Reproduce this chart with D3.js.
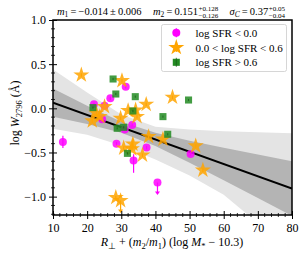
<!DOCTYPE html>
<html><head><meta charset="utf-8">
<script src="https://cdn.jsdelivr.net/npm/d3@7"></script>
<style>body{margin:0;background:#fff}svg{display:block}text{font-family:"Liberation Serif","Times New Roman",serif}</style>
</head><body>
<script>
// ---- data ----
const lowX = [12.9, 22.0, 24.4, 25.1, 26.8, 31.3, 28.6, 31.0, 33.2, 33.6, 37.4, 40.6, 50.3];
const lowY = [-0.38, 0.045, -0.125, 0.03, 0.113, 0.245, -0.40, -0.24, -0.19, -0.59, -0.445, -0.84, -0.517];
const lowErrUp = [0.07, 0.02, 0.02, 0.02, 0.02, 0.02, 0.02, 0.02, 0.02, 0.07, 0.02, 0.0, 0.02];
const lowErrDn = [0.07, 0.02, 0.02, 0.02, 0.02, 0.02, 0.02, 0.02, 0.02, 0.14, 0.02, 0.0, 0.02];
const lowLimit = [0,0,0,0,0,0,0,0,0,0,0,1,0];

const midX = [18.3, 30.2, 25.1, 23.7, 21.5, 22.7, 29.8, 32.0, 34.6, 37.3, 34.2, 45.0, 38.0, 42.2, 51.8, 53.9, 30.7, 33.4, 33.1, 36.2, 28.4, 29.8];
const midY = [0.377, 0.313, 0.019, -0.094, -0.143, -0.057, -0.113, -0.026, -0.094, 0.045, -0.019, 0.125, -0.32, -0.35, -0.426, -0.70, -0.45, -0.405, -0.46, -0.53, -1.01, -1.045];
const midErr = [0.02,0.02,0.02,0.02,0.02,0.02,0.02,0.02,0.02,0.02,0.02,0.02,0.02,0.02,0.02,0.02,0.02,0.06,0.02,0.02,0.02,0.0];
const midLimit = [0,0,0,0,0,0,0,0,0,0,0,0,0,0,0,0,0,0,0,0,0,1];

const highX = [27.6, 28.4, 34.1, 21.7, 33.4, 42.2, 49.7, 43.6, 28.8, 30.7, 31.8];
const highY = [0.332, 0.162, 0.132, 0.008, -0.03, -0.094, 0.094, -0.294, -0.226, -0.215, -0.51];
const highErr = [0.012,0.012,0.012,0.012,0.012,0.012,0.012,0.012,0.012,0.012,0.012];

// fit line and bands
const fitX = [10, 80];
const fitY = [0.064, -0.909];
const bandX = [10, 20, 30, 40, 50, 60, 70, 80];
const innerHi = [0.224, 0.028, -0.151, -0.278, -0.367, -0.447, -0.524, -0.60];
const innerLo = [-0.096, -0.178, -0.277, -0.428, -0.617, -0.815, -1.016, -1.218];
const outerHi = [0.44, 0.18, -0.07, -0.21, -0.24, -0.26, -0.27, -0.283];
const outerLo = [-0.23, -0.30, -0.42, -0.58, -0.76, -0.98, -1.30, -1.60];

const xTicks = [10, 20, 30, 40, 50, 60, 70, 80];
const yTicks = [-1.0, -0.5, 0.0, 0.5, 1.0];
const legendLabels = ["log SFR < 0.0", "0.0 < log SFR < 0.6", "log SFR > 0.6"];
const colors = ["#ff00ff", "#ffa500", "#228b22"];

// ---- drawing ----
const W = 299, H = 260;
const L = 53, R = 292, T = 20, B = 215;
const svg = d3.select("body").append("svg").attr("width", W).attr("height", H);
const x = d3.scaleLinear().domain([10, 80]).range([L, R]);
const y = d3.scaleLinear().domain([-1.208, 1.0]).range([B, T]);

const defs = svg.append("defs");
defs.append("clipPath").attr("id", "clip").append("rect")
  .attr("x", L).attr("y", T).attr("width", R - L).attr("height", B - T);
const plot = svg.append("g").attr("clip-path", "url(#clip)");

const area = (hi, lo) => d3.area().x((d, i) => x(bandX[i])).y0((d, i) => y(lo[i])).y1((d, i) => y(hi[i]))(bandX);
plot.append("path").attr("d", area(outerHi, outerLo)).attr("fill", "#e4e4e4");
plot.append("path").attr("d", area(innerHi, innerLo)).attr("fill", "#b4b4b4");
plot.append("line").attr("x1", x(fitX[0])).attr("y1", y(fitY[0])).attr("x2", x(fitX[1])).attr("y2", y(fitY[1]))
  .attr("stroke", "#000").attr("stroke-width", 2);

const star = d3.symbol().type(d3.symbolStar).size(80)();
const sq = d3.symbol().type(d3.symbolSquare).size(50)();

function errbar(g, cx, cy, up, dn, col, limit, sw) {
  if (limit) {
    g.append("line").attr("x1", x(cx)).attr("x2", x(cx)).attr("y1", y(cy)).attr("y2", y(cy) + 11)
      .attr("stroke", col).attr("stroke-width", 1.2);
    g.append("path").attr("d", `M${x(cx)-2.5},${y(cy)+9} L${x(cx)+2.5},${y(cy)+9} L${x(cx)},${y(cy)+12.5} Z`).attr("fill", col);
  } else {
    g.append("line").attr("x1", x(cx)).attr("x2", x(cx)).attr("y1", y(cy + up)).attr("y2", y(cy - dn))
      .attr("stroke", col).attr("stroke-width", sw || 1.2);
  }
}

const gLow = plot.append("g");
lowX.forEach((vx, i) => {
  errbar(gLow, vx, lowY[i], lowErrUp[i], lowErrDn[i], colors[0], lowLimit[i]);
  gLow.append("circle").attr("cx", x(vx)).attr("cy", y(lowY[i])).attr("r", 4).attr("fill", colors[0]).attr("fill-opacity", 0.85);
});
const gMid = plot.append("g");
midX.forEach((vx, i) => {
  errbar(gMid, vx, midY[i], midErr[i], midErr[i], colors[1], midLimit[i]);
  gMid.append("path").attr("d", star).attr("transform", `translate(${x(vx)},${y(midY[i])})`).attr("fill", colors[1]).attr("fill-opacity", 0.85);
});
const gHigh = plot.append("g");
highX.forEach((vx, i) => {
  gHigh.append("path").attr("d", sq).attr("transform", `translate(${x(vx)},${y(highY[i])})`).attr("fill", colors[2]).attr("fill-opacity", 0.85);
  errbar(gHigh, vx, highY[i], highErr[i], highErr[i], "#1a5c1a", 0, 0.8);
});

// axes
const xAxis = d3.axisBottom(x).tickValues(xTicks).tickFormat(d3.format("d")).tickSizeInner(-4).tickSizeOuter(0).tickPadding(8);
const gx = svg.append("g").attr("transform", `translate(0,${B})`).call(xAxis);
const yAxis = d3.axisLeft(y).tickValues(yTicks).tickFormat(d => d3.format(".1f")(d).replace("-", "\u2212")).tickSizeInner(-4).tickSizeOuter(0).tickPadding(7);
const gy = svg.append("g").attr("transform", `translate(${L},0)`).call(yAxis);
[gx, gy].forEach(g => { g.select(".domain").remove(); g.selectAll("text").attr("font-size", 12).attr("fill", "#000").attr("font-family", "Liberation Serif"); g.selectAll("line").attr("stroke", "#000"); });
gx.selectAll(".tick line").attr("y1", 4).attr("y2", -4);
gy.selectAll(".tick line").attr("x1", -4).attr("x2", 4);
// minor ticks
const xMinor = d3.range(12, 80, 2).filter(v => v % 10 !== 0);
svg.append("g").selectAll("line").data(xMinor).join("line")
  .attr("x1", d => x(d)).attr("x2", d => x(d)).attr("y1", B - 2).attr("y2", B + 2).attr("stroke", "#000").attr("stroke-width", 0.8);
const yMinor = d3.range(-12, 10, 1).map(v => v / 10).filter(v => Math.abs(Math.round(v * 10) % 5) !== 0);
svg.append("g").selectAll("line").data(yMinor).join("line")
  .attr("x1", L - 2).attr("x2", L + 2).attr("y1", d => y(d)).attr("y2", d => y(d)).attr("stroke", "#000").attr("stroke-width", 0.8);

svg.append("rect").attr("x", L).attr("y", T).attr("width", R - L).attr("height", B - T)
  .attr("fill", "none").attr("stroke", "#000").attr("stroke-width", 1.5);

// legend
const lg = svg.append("g");
lg.append("rect").attr("x", 161.5).attr("y", 24.5).attr("width", 125).attr("height", 47).attr("rx", 2)
  .attr("fill", "#fff").attr("fill-opacity", 0.8).attr("stroke", "#ccc").attr("stroke-width", 0.8);
const rowY = [32.7, 47.5, 62.3];
legendLabels.forEach((t, i) => {
  const mx = 176.3, my = rowY[i];
  const col = colors[i];
  if (i < 2) lg.append("line").attr("x1", mx).attr("x2", mx).attr("y1", my - 4.5).attr("y2", my + 4.5).attr("stroke", col).attr("stroke-width", 1.2);
  if (i === 0) lg.append("circle").attr("cx", mx).attr("cy", my).attr("r", 4).attr("fill", col);
  if (i === 1) lg.append("path").attr("d", star).attr("transform", `translate(${mx},${my})`).attr("fill", col);
  if (i === 2) { lg.append("path").attr("d", sq).attr("transform", `translate(${mx},${my})`).attr("fill", col); lg.append("line").attr("x1", mx).attr("x2", mx).attr("y1", my - 4.5).attr("y2", my + 4.5).attr("stroke", "#1a5c1a").attr("stroke-width", 0.8); }
  lg.append("text").attr("x", 195.5).attr("y", my + 4).attr("font-size", 11).text(t);
});

// title with sub/superscripts
function mathGroup(x0, base, parts, sup, subsc) {
  const g = svg.append("g");
  const t = g.append("text").attr("x", x0).attr("y", base).attr("font-size", 10.5);
  parts.forEach(p => {
    const ts = t.append("tspan").text(p.t);
    if (p.i) ts.attr("font-style", "italic");
    if (p.small) ts.attr("font-size", 7.5);
    if (p.dy) ts.attr("dy", p.dy);
  });
  if (sup) {
    const w = t.node().getComputedTextLength();
    g.append("text").attr("x", x0 + w + 0.5).attr("y", base - 4.5).attr("font-size", 7).text(sup);
    g.append("text").attr("x", x0 + w + 0.5).attr("y", base + 2.5).attr("font-size", 7).text(subsc);
  }
}
mathGroup(57, 15, [{t: "m", i: 1}, {t: "1", small: 1, dy: 2}, {t: "\u2009=\u2009\u22120.014\u2009\u00b1\u20090.006", dy: -2}]);
mathGroup(153, 15, [{t: "m", i: 1}, {t: "2", small: 1, dy: 2}, {t: "\u2009=\u20090.151", dy: -2}], "+0.128", "\u22120.126");
mathGroup(229.5, 15, [{t: "\u03c3", i: 1}, {t: "C", i: 1, small: 1, dy: 2}, {t: "\u2009=\u20090.37", dy: -2}], "+0.05", "\u22120.04");

// axis labels
const yl = svg.append("text").attr("transform", "translate(19,113) rotate(-90)").attr("text-anchor", "middle").attr("font-size", 12);
yl.append("tspan").text("log ");
yl.append("tspan").attr("font-style", "italic").text("W");
yl.append("tspan").attr("font-size", 8.5).attr("dy", 2.5).text("2796");
yl.append("tspan").attr("dy", -2.5).text(" (\u00c5)");

const xl = svg.append("text").attr("x", 172).attr("y", 246).attr("text-anchor", "middle").attr("font-size", 12);
xl.append("tspan").attr("font-style", "italic").text("R");
xl.append("tspan").attr("font-size", 8.5).attr("dy", 2.5).text("\u22a5");
xl.append("tspan").attr("dy", -2.5).text(" + (");
xl.append("tspan").attr("font-style", "italic").text("m");
xl.append("tspan").attr("font-size", 8.5).attr("dy", 2.5).text("2");
xl.append("tspan").attr("dy", -2.5).text("/");
xl.append("tspan").attr("font-style", "italic").text("m");
xl.append("tspan").attr("font-size", 8.5).attr("dy", 2.5).text("1");
xl.append("tspan").attr("dy", -2.5).text(") (log ");
xl.append("tspan").attr("font-style", "italic").text("M");
xl.append("tspan").attr("font-size", 8.5).attr("dy", 2.5).text("*");
xl.append("tspan").attr("dy", -2.5).text(" \u2212 10.3)");
</script>
</body></html>
